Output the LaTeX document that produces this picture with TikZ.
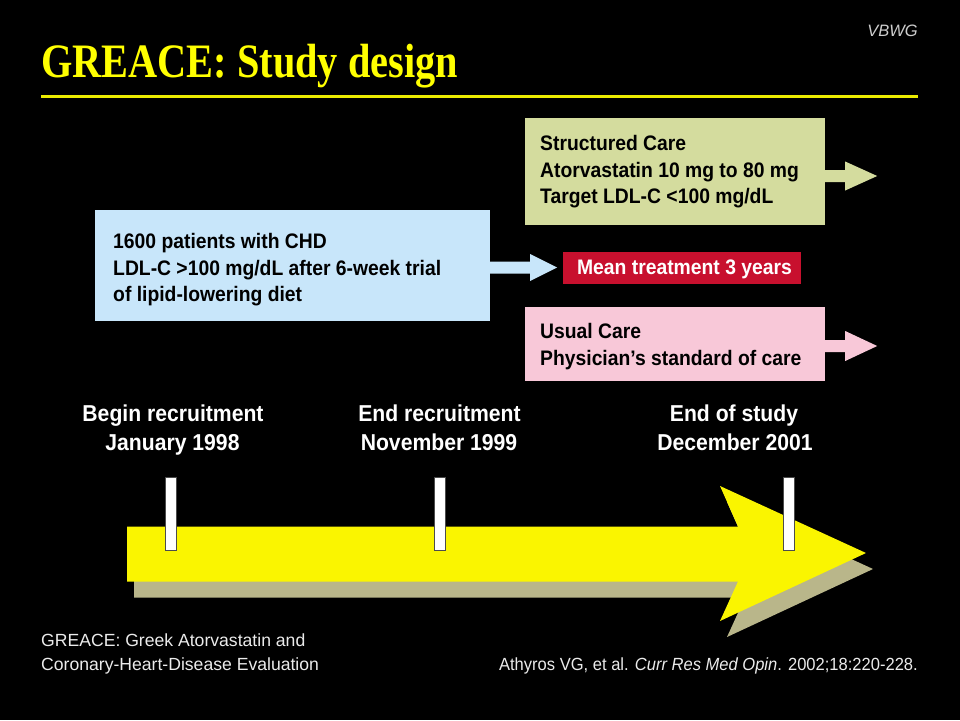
\documentclass[tikz,border=0pt]{standalone}
\usepackage{fontspec}
\setmainfont{Liberation Sans}
\newfontfamily\bsans{Liberation Sans}[FakeStretch=0.92]
\newfontfamily\tfont{Liberation Serif}[FakeStretch=0.84]
\newfontfamily\rsans{Liberation Sans}
\newfontfamily\csans{Liberation Sans}[FakeStretch=0.94]
\usetikzlibrary{calc}
\definecolor{titleyellow}{RGB}{255,255,0}
\definecolor{ruleyellow}{RGB}{235,235,0}
\definecolor{greenc}{RGB}{212,220,158}
\definecolor{bluec}{RGB}{200,230,250}
\definecolor{pinkc}{RGB}{248,200,216}
\definecolor{redc}{RGB}{200,16,46}
\definecolor{arrowyellow}{RGB}{250,245,0}
\definecolor{shadowc}{RGB}{185,182,138}
\definecolor{greyt}{RGB}{205,205,205}
\begin{document}
\begin{tikzpicture}[x=1pt,y=-1pt,
  panel/.style={rectangle, draw=none, inner sep=0pt},
  boxtxt/.style={anchor=base west, inner sep=0pt, text=black, font=\bsans\bfseries\fontsize{21}{26}\selectfont},
  tltxt/.style={anchor=base, inner sep=0pt, text=white, font=\bsans\bfseries\fontsize{23}{28}\selectfont},
  foot/.style={inner sep=0pt, text=white!92!black, font=\rsans\fontsize{17.6}{21}\selectfont},
  tickbar/.style={rectangle, draw=black!70, fill=white, line width=0.8pt, minimum width=11pt, minimum height=73pt, inner sep=0pt}
]
% background
\fill[black] (0,0) rectangle (960,720);
\useasboundingbox (0,0) rectangle (960,720);

% header
\node[anchor=base east, inner sep=0pt, text=greyt, font=\rsans\itshape\fontsize{16.5}{19}\selectfont] (vbwg) at (918,36) {VBWG};
\node[anchor=base west, inner sep=0pt, text=titleyellow, font=\tfont\bfseries\fontsize{48}{56}\selectfont] (title) at (41,77) {GREACE: Study design};
\coordinate (ruleL) at (41,96.5);
\coordinate (ruleR) at (918,96.5);
\draw[ruleyellow, line width=3pt] (ruleL) -- (ruleR);

% boxes
\node[panel, fill=greenc, minimum width=300pt, minimum height=107pt] (green) at (675,171.5) {};
\node[panel, fill=bluec, minimum width=395pt, minimum height=111pt] (blue) at (292.5,265.5) {};
\node[panel, fill=redc, minimum width=238pt, minimum height=32pt] (red) at (682,268) {};
\node[panel, fill=pinkc, minimum width=300pt, minimum height=74pt] (pink) at (675,344) {};

% box texts
\node[boxtxt] (g1) at (540,150) {Structured Care};
\node[boxtxt] (g2) at (540,177) {Atorvastatin 10 mg to 80 mg};
\node[boxtxt] (g3) at (540,203) {Target LDL-C <100 mg/dL};
\node[boxtxt] (b1) at (113,248) {1600 patients with CHD};
\node[boxtxt] (b2) at (113,275) {LDL-C >100 mg/dL after 6-week trial};
\node[boxtxt] (b3) at (113,301) {of lipid-lowering diet};
\node[boxtxt, anchor=base, text=white] (r1) at (684.5,274) {Mean treatment 3 years};
\node[boxtxt] (p1) at (540,338) {Usual Care};
\node[boxtxt] (p2) at (540,365) {Physician’s standard of care};

% block arrows from boxes
\fill[greenc, shift={($(green.east)+(0,4.5)$)}] (0,-6) -- (20,-6) -- (20,-14.5) -- (52,0) -- (20,14.5) -- (20,6) -- (0,6) -- cycle;
\fill[bluec, shift={($(blue.east)+(0,2)$)}] (0,-6) -- (40,-6) -- (40,-13.5) -- (67,0) -- (40,13.5) -- (40,6) -- (0,6) -- cycle;
\fill[pinkc, shift={($(pink.east)+(0,2)$)}] (0,-6) -- (20,-6) -- (20,-15) -- (52,0) -- (20,15) -- (20,6) -- (0,6) -- cycle;

% timeline labels
\node[tltxt] (l1a) at (173,421.5) {Begin recruitment};
\node[tltxt] (l1b) at (172.5,450) {January 1998};
\node[tltxt] (l2a) at (439.5,421.5) {End recruitment};
\node[tltxt] (l2b) at (439,450) {November 1999};
\node[tltxt] (l3a) at (734,421.5) {End of study};
\node[tltxt] (l3b) at (735,450) {December 2001};

% timeline arrow (shadow + arrow)
\fill[shadowc, shift={(7,16)}] (127,526.5) -- (738,526.5) -- (720,486) -- (866,553) -- (720,621) -- (738,581.5) -- (127,581.5) -- cycle;
\fill[arrowyellow] (127,526.5) -- (738,526.5) -- (720,486) -- (866,553) -- (720,621) -- (738,581.5) -- (127,581.5) -- cycle;

% ticks
\node[tickbar] (t1) at (170.5,513.5) {};
\node[tickbar] (t2) at (439.5,513.5) {};
\node[tickbar] (t3) at (788.5,513.5) {};

% footer
\node[foot, anchor=base west] (f1) at (41,646) {GREACE: Greek Atorvastatin and};
\node[foot, anchor=base west] (f2) at (41,670) {Coronary-Heart-Disease Evaluation};
\node[foot, anchor=base east, font=\csans\fontsize{17.6}{21}\selectfont] (cite) at (918,670) {Athyros VG, et al. \textit{Curr Res Med Opin}. 2002;18:220-228.};
\end{tikzpicture}
\end{document}
